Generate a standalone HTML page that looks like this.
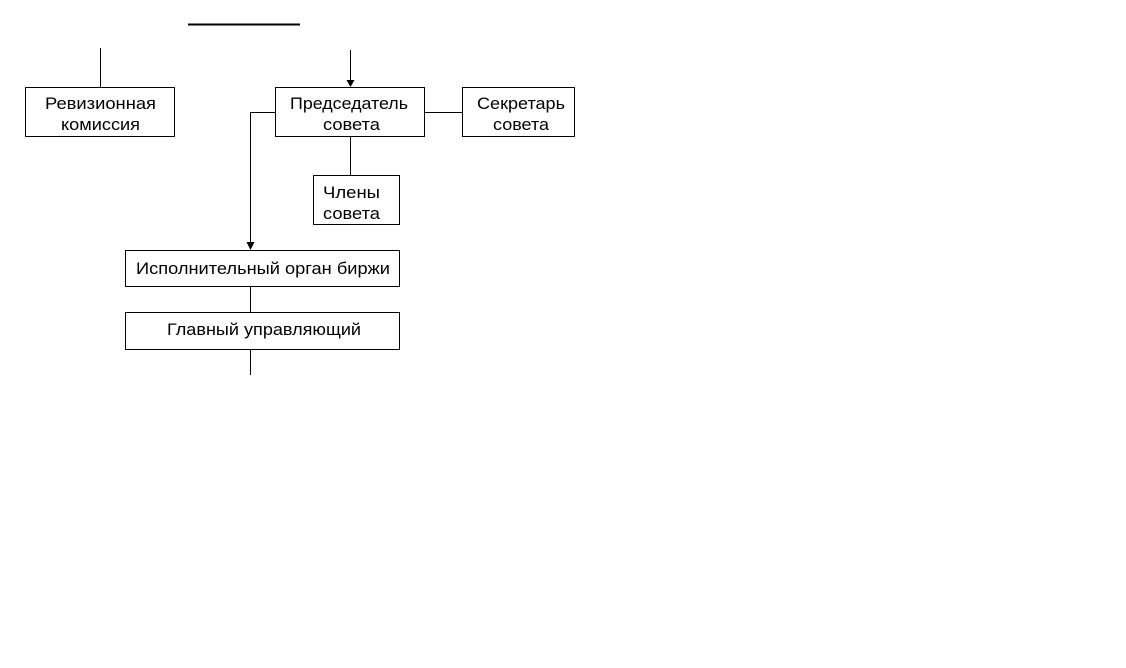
<!DOCTYPE html>
<html><head><meta charset="utf-8"><style>
body{margin:0;background:#fff;width:1126px;height:663px;overflow:hidden}
svg text{font-family:"Liberation Sans",Arial,sans-serif;font-size:17px;fill:#000}
</style></head><body>
<svg width="1126" height="663" xmlns="http://www.w3.org/2000/svg">
<g stroke="#000" stroke-width="1" fill="none" shape-rendering="crispEdges">
<line x1="188" y1="24.5" x2="300" y2="24.5" stroke-width="2"/>
<line x1="100.5" y1="48" x2="100.5" y2="87"/>
<line x1="350.5" y1="50" x2="350.5" y2="80"/>
<rect x="25.5" y="87.5" width="149" height="49"/>
<rect x="275.5" y="87.5" width="149" height="49"/>
<rect x="462.5" y="87.5" width="112" height="49"/>
<rect x="313.5" y="175.5" width="86" height="49"/>
<rect x="125.5" y="250.5" width="274" height="36"/>
<rect x="125.5" y="312.5" width="274" height="37"/>
<line x1="425" y1="112.5" x2="462" y2="112.5"/>
<line x1="350.5" y1="137" x2="350.5" y2="175"/>
<polyline points="275,112.5 250.5,112.5 250.5,242"/>
<line x1="250.5" y1="287" x2="250.5" y2="312"/>
<line x1="250.5" y1="350" x2="250.5" y2="375"/>
</g>
<polygon points="346.5,80 354.5,80 350.5,87" fill="#000"/>
<polygon points="246.5,242 254.5,242 250.5,250" fill="#000"/>
<text x="45" y="109" textLength="111" lengthAdjust="spacingAndGlyphs">Ревизионная</text>
<text x="61" y="130" textLength="79" lengthAdjust="spacingAndGlyphs">комиссия</text>
<text x="290" y="109" textLength="118" lengthAdjust="spacingAndGlyphs">Председатель</text>
<text x="323" y="130" textLength="57" lengthAdjust="spacingAndGlyphs">совета</text>
<text x="477" y="109" textLength="88" lengthAdjust="spacingAndGlyphs">Секретарь</text>
<text x="493" y="130" textLength="56" lengthAdjust="spacingAndGlyphs">совета</text>
<text x="323" y="198" textLength="57" lengthAdjust="spacingAndGlyphs">Члены</text>
<text x="323" y="219" textLength="57" lengthAdjust="spacingAndGlyphs">совета</text>
<text x="136" y="274" textLength="254" lengthAdjust="spacingAndGlyphs">Исполнительный орган биржи</text>
<text x="167" y="335" textLength="194" lengthAdjust="spacingAndGlyphs">Главный управляющий</text>
</svg>
</body></html>
